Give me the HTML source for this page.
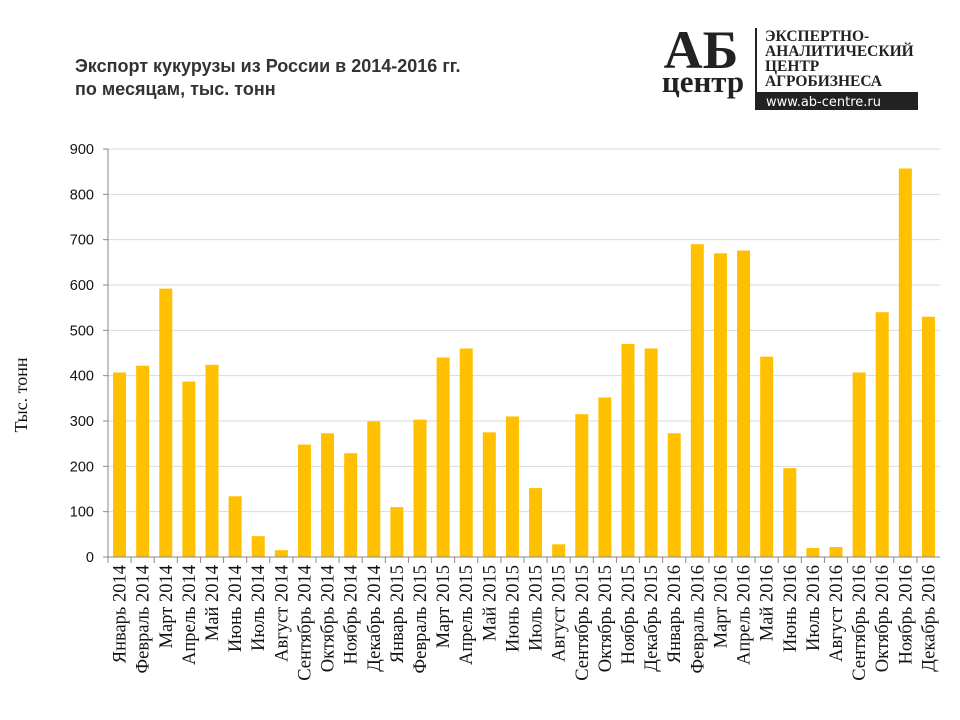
<!DOCTYPE html>
<html><head><meta charset="utf-8"><style>
body{margin:0;background:#fff;width:960px;height:720px;overflow:hidden}
svg{display:block}
</style></head><body>
<svg id="chart" width="960" height="720" xmlns="http://www.w3.org/2000/svg">
<text x="75" y="72" font-family="Liberation Sans, sans-serif" font-weight="bold" font-size="18" fill="#333">Экспорт кукурузы из России в 2014-2016 гг.</text>
<text x="75" y="95" font-family="Liberation Sans, sans-serif" font-weight="bold" font-size="18" fill="#333">по месяцам, тыс. тонн</text>
<g>
<text x="701" y="68" text-anchor="middle" font-family="Liberation Serif, serif" font-weight="bold" font-size="54" fill="#222">АБ</text>
<text x="703" y="92" text-anchor="middle" font-family="Liberation Serif, serif" font-weight="bold" font-size="31" fill="#222">центр</text>
<rect x="755" y="28" width="2" height="82" fill="#222"/>
<text x="765" y="41" font-family="Liberation Serif, serif" font-weight="bold" font-size="15.5" fill="#222">ЭКСПЕРТНО-</text>
<text x="765" y="56" font-family="Liberation Serif, serif" font-weight="bold" font-size="15.5" fill="#222">АНАЛИТИЧЕСКИЙ</text>
<text x="765" y="71" font-family="Liberation Serif, serif" font-weight="bold" font-size="15.5" fill="#222">ЦЕНТР</text>
<text x="765" y="86" font-family="Liberation Serif, serif" font-weight="bold" font-size="15.5" fill="#222">АГРОБИЗНЕСА</text>
<rect x="757" y="92" width="161" height="18" fill="#222"/>
<text x="766" y="106" font-family="DejaVu Sans, sans-serif" font-size="13" fill="#fff">www.ab-centre.ru</text>
</g>
<text transform="translate(27,395) rotate(-90)" text-anchor="middle" font-family="Liberation Serif, serif" font-size="18" fill="#111">Тыс. тонн</text>
<g id="grid"></g><g id="bars"></g><g id="axes"></g>
</svg>
<script>
const categories=["Январь 2014","Февраль 2014","Март 2014","Апрель 2014","Май 2014","Июнь 2014","Июль 2014","Август 2014","Сентябрь 2014","Октябрь 2014","Ноябрь 2014","Декабрь 2014","Январь 2015","Февраль 2015","Март 2015","Апрель 2015","Май 2015","Июнь 2015","Июль 2015","Август 2015","Сентябрь 2015","Октябрь 2015","Ноябрь 2015","Декабрь 2015","Январь 2016","Февраль 2016","Март 2016","Апрель 2016","Май 2016","Июнь 2016","Июль 2016","Август 2016","Сентябрь 2016","Октябрь 2016","Ноябрь 2016","Декабрь 2016"];
const values=[407,422,592,387,424,134,46,15,248,273,229,299,110,303,440,460,275,310,152,28,315,352,470,460,273,690,670,676,442,196,20,22,407,540,857,530];
const yTicks=[0,100,200,300,400,500,600,700,800,900];
const NS="http://www.w3.org/2000/svg";
const L=108,R=940,T=149,B=557,yMax=900;
const step=(R-L)/categories.length,bw=13;
const y=v=>B-(v/yMax)*(B-T);
const x=i=>L+i*step;
function mk(tag,attrs,parent){const e=document.createElementNS(NS,tag);for(const k in attrs)e.setAttribute(k,attrs[k]);document.getElementById(parent).appendChild(e);return e;}
yTicks.forEach(t=>{
 if(t>0){const g=mk('line',{x1:L,x2:R,y1:y(t),y2:y(t),stroke:'#d9d9d9','stroke-width':1},'grid');
 
 }
 const lb=mk('text',{x:L-14,y:y(t)+5,'text-anchor':'end','font-family':'Liberation Sans, sans-serif','font-size':14.5,fill:'#111'},'axes');
 lb.textContent=t;
 
 
 const tk=mk('line',{x1:L-5,x2:L,y1:y(t),y2:y(t),stroke:'#888'},'axes');
 
 
});
values.forEach((v,i)=>{
 const r=mk('rect',{x:x(i)+(step-bw)/2,y:y(v),width:bw,height:B-y(v),fill:'#FFC000'},'bars');
 
 
});
const ax=mk('line',{x1:L,x2:L,y1:T,y2:B,stroke:'#888'},'axes');


const xa=mk('line',{x1:L,x2:R,y1:B,y2:B,stroke:'#888'},'axes');


categories.forEach((c,i)=>{
 const tk=mk('line',{x1:x(i),x2:x(i),y1:B,y2:B+6,stroke:'#888'},'axes');
 
 
 const cx=x(i)+step/2+6;
 const t=mk('text',{transform:`translate(${cx},565) rotate(-90)`,'text-anchor':'end','font-family':'Liberation Serif, serif','font-size':18.5,fill:'#111'},'axes');
 t.textContent=c;
 
 
});
</script>
</body></html>
